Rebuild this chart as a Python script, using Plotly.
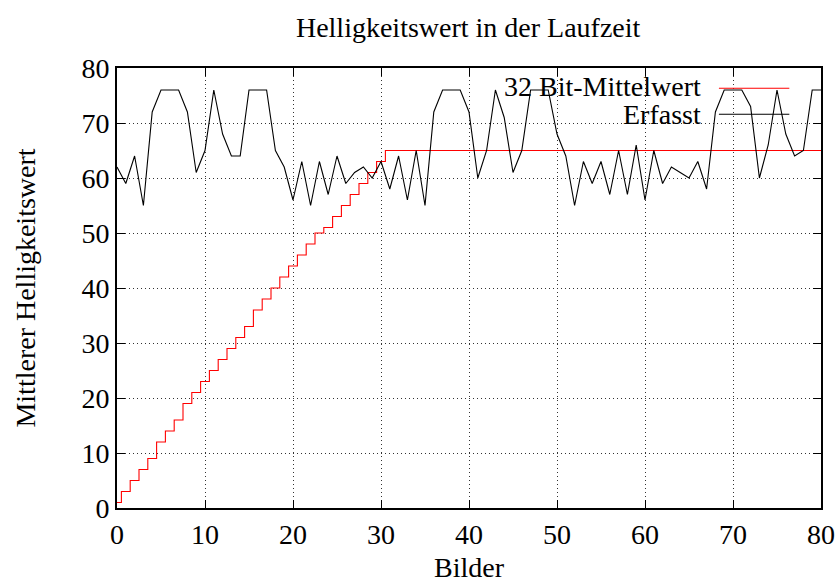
import plotly.graph_objects as go

frames = list(range(0, 81))

mittelwert = [1, 3, 5, 7, 9, 12, 14, 16, 19, 21, 23, 25, 27, 29, 31, 33, 36, 38, 40, 42,
              44, 46, 48, 50, 51, 53, 55, 57, 59, 61, 63] + [65] * 50

erfasst = [62, 59, 64, 55, 72, 76, 76, 76, 72, 61, 65, 76, 68, 64, 64, 76, 76, 76, 65, 62,
           56, 63, 55, 63, 57, 64, 59, 61, 62, 60, 63, 58, 64, 56, 65, 55, 72, 76, 76, 76,
           72, 60, 65, 76, 71, 61, 65, 76, 76, 76, 68, 64, 55, 63, 59, 63, 57, 65, 57, 66,
           56, 65, 59, 62, 61, 60, 63, 58, 72, 76, 76, 76, 73, 60, 66, 76, 68, 64, 65, 76, 76]

ticks = [0, 10, 20, 30, 40, 50, 60, 70, 80]
series_names = ["32 Bit-Mittelwert", "Erfasst"]
series_colors = ["#ff0000", "#000000"]

FONT = "Liberation Serif"
FS = 28

fig = go.Figure()
fig.add_trace(go.Scatter(x=frames, y=mittelwert, mode="lines", name=series_names[0],
                         line=dict(color=series_colors[0], width=1.1, shape="hvh"),
                         showlegend=False))
fig.add_trace(go.Scatter(x=frames, y=erfasst, mode="lines", name=series_names[1],
                         line=dict(color=series_colors[1], width=1.1),
                         showlegend=False))

axis_common = dict(
    range=[0, 80], tickvals=ticks, ticktext=[str(t) for t in ticks],
    showline=True, linecolor="black", linewidth=1.8, mirror="ticks",
    ticks="inside", ticklen=8, tickwidth=1, tickcolor="black",
    showgrid=True, gridcolor="#333333", gridwidth=1, griddash="1px,3px",
    zeroline=False, automargin=False,
    tickfont=dict(family=FONT, size=FS, color="black"),
)

fig.update_xaxes(**axis_common,
                 title=dict(text="Bilder", font=dict(family=FONT, size=FS, color="black"),
                            standoff=18))
fig.update_yaxes(**axis_common,
                 title=dict(text="Mittlerer Helligkeitswert",
                            font=dict(family=FONT, size=FS, color="black"), standoff=38))

# legend drawn gnuplot-style: text right-aligned, sample line to the right
legend_y_text = [0.957, 0.895]
legend_y_line = [0.954, 0.895]
for name, color, yt, yl in zip(series_names, series_colors, legend_y_text, legend_y_line):
    fig.add_annotation(xref="paper", yref="paper", x=0.832, y=yt, text=name,
                       showarrow=False, xanchor="right", yanchor="middle",
                       font=dict(family=FONT, size=FS, color="black"))
    fig.add_shape(type="line", xref="paper", yref="paper", x0=0.855, x1=0.955,
                  y0=yl, y1=yl, line=dict(color=color, width=1.1))

fig.update_layout(
    width=839, height=583,
    margin=dict(l=117, r=18, t=68, b=75),
    paper_bgcolor="white", plot_bgcolor="white",
    title=dict(text="Helligkeitswert in der Laufzeit", x=0.558, xanchor="center",
               y=0.953, yanchor="middle",
               font=dict(family=FONT, size=FS, color="black")),
    showlegend=False,
)

fig.write_html("out.html")
